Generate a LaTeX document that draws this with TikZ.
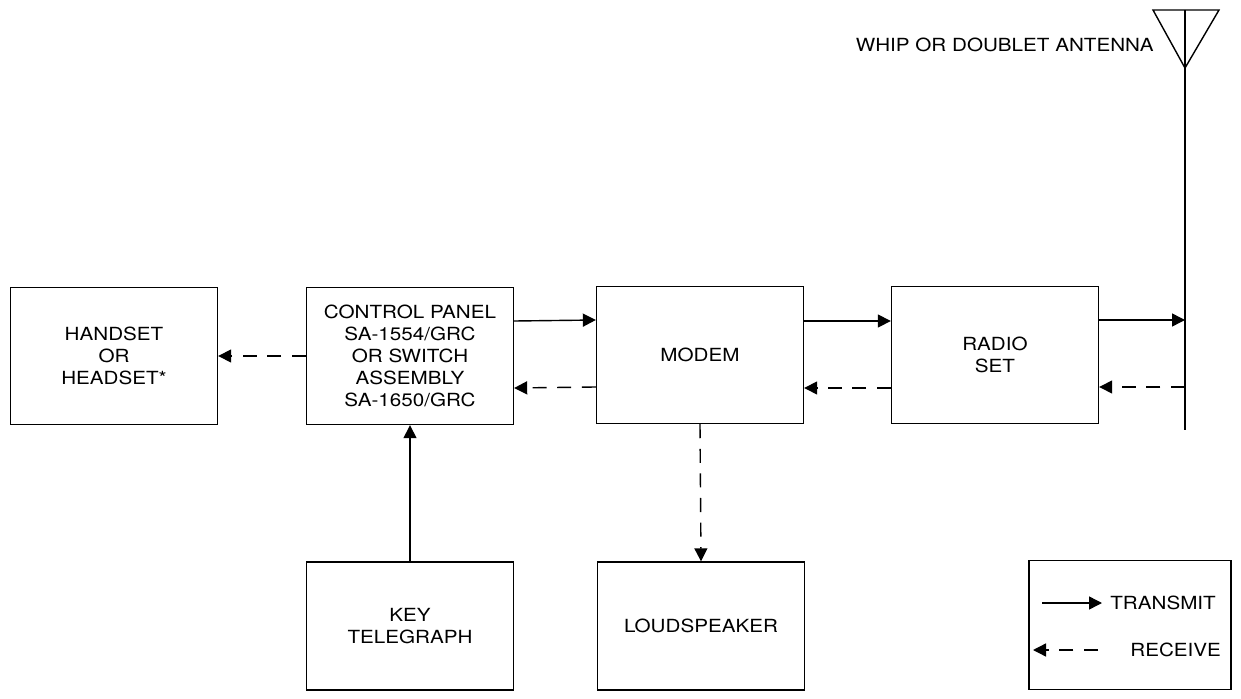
\documentclass[tikz,border=0pt]{standalone}
\usepackage{fontspec}
\setmainfont{TeX Gyre Heros}[FakeStretch=1.14]
\usepackage{tikz}
\usetikzlibrary{
    arrows.meta,
    positioning,
    calc
}
\tikzstyle{block} = [
    draw=black,
    line width=0.8pt,
    minimum width=4.14cm,
    minimum height=2.74cm,
    align=center,
    font=\fontsize{10.3}{12.5}\selectfont
]
\tikzstyle{tx} = [
    -{Triangle[length=0.26cm,width=0.26cm]},
    line width=0.8pt
]
\tikzstyle{rx} = [
    tx,
    dash pattern=on 8pt off 6pt
]
\tikzstyle{lbl} = [
    font=\fontsize{10.3}{12.5}\selectfont,
    inner sep=0pt
]

\begin{document}
\begin{tikzpicture}[x=0.02cm, y=-0.02cm]
        \useasboundingbox (0,0) rectangle (1241,699);

        % Blocks
        \node[block] (handset) at (114,356) {HANDSET\\OR\\HEADSET*};
        \node[block] (ctrl) at (410,356) {CONTROL PANEL\\SA-1554/GRC\\OR SWITCH\\ASSEMBLY\\SA-1650/GRC};
        \node[block] (modem) at (700,355) {MODEM};
        \node[block] (radio) at (995,355) {RADIO\\SET};
        \node[block, minimum height=2.56cm] (keytel) at (410,626) {KEY\\TELEGRAPH};
        \node[block, minimum height=2.56cm] (speaker) at (701,626) {LOUDSPEAKER};

        % Antenna
        \coordinate (mastTop) at (1185,10);
        \coordinate (mastApex) at (1185,68);
        \coordinate (mastBot) at (1185,430);
        \draw[line width=1.6pt] (mastTop) -- (mastBot);
        \draw[line width=0.8pt] (1153,10) -- (1219,10) -- (mastApex) -- cycle;
        \node[lbl, anchor=east] (antlbl) at (1154,45) {WHIP OR DOUBLET ANTENNA};
        \coordinate (mastTx) at (1185,320);
        \coordinate (mastRx) at (1185,387);

        % Transmit paths
        \draw[tx] ([yshift=0.7cm]ctrl.east) -- ([yshift=0.7cm]modem.west);
        \draw[tx] ([yshift=0.68cm]modem.east) -- ([yshift=0.68cm]radio.west);
        \draw[tx] (radio.east |- mastTx) -- (mastTx);
        \draw[tx] (keytel.north) -- (ctrl.south);

        % Receive paths
        \draw[rx] (mastRx) -- (radio.east |- mastRx);
        \draw[rx] ([yshift=-0.66cm]radio.west) -- ([yshift=-0.66cm]modem.east);
        \draw[rx] ([yshift=-0.64cm]modem.west) -- ([yshift=-0.64cm]ctrl.east);
        \draw[rx] (ctrl.west) -- (handset.east);
        \draw[rx] (modem.south) -- (speaker.north);

        % Legend
        \node[block, minimum width=4.04cm, minimum height=2.58cm] (legend) at (1130,625) {};
        \coordinate (txA) at (1042,603);
        \coordinate (txB) at (1102,603);
        \coordinate (rxA) at (1098,650);
        \coordinate (rxB) at (1033,650);
        \draw[tx] (txA) -- (txB);
        \draw[rx] (rxA) -- (rxB);
        \node[lbl, anchor=west] (txlbl) at (1110,603) {TRANSMIT};
        \node[lbl, anchor=west] (rxlbl) at (1130,650) {RECEIVE};
    \end{tikzpicture}
\end{document}
